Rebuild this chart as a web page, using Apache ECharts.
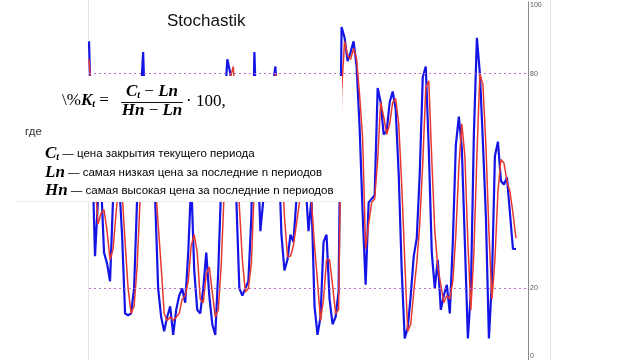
<!DOCTYPE html>
<html><head><meta charset="utf-8">
<script src="https://cdn.jsdelivr.net/npm/echarts@6/dist/echarts.min.js"></script>
<style>html,body{margin:0;padding:0;background:#fff}#c{width:640px;height:360px}</style>
</head><body><div id="c"></div>
<script>
// %K (blue) and %D (red) stochastic oscillator values, one per period
const kValues = [89,60,29,45,50,30,27,22,45,55,
50,35,13,12.5,13,20,45,70,86,60,
55,50,45,20,12,8,12,15,7,14,
18,20,16,30,50,25,14,13,20,30,
18,10,7,25,50,70,84,80,65,45,
20,18,20,22,40,86,60,36,45,60,
70,76,82,60,35,25,28,35,33,45,
55,60,50,36,45,15,7,12,33,35,
17,10,12,19,93,90,83.5,86,89,82,
65,41,21,44,45,46,76,72,63,64,
72,75,70,52,25,6,9,18,29,34,
52,79,82,59,30,20,28,14,18,21,
13,33,60,68,59,33,6,19,63,90,
80,61,40,6,22,57,61,50,49,51,
41,31,31];
const dValues = [84,74,50,38,41,42,36,28,31,41,
50,47,33,20,13,15,26,45,67,72,
67,55,50,38,26,13,11,12,11,12,
13,17,18,22,32,35,30,17,16,24,
26,19,12,14,27,48,67,79,82,65,
43,28,19,20,27,49,62,61,47,47,
58,69,80,72,59,40,29,29,32,38,
44,53,55,49,44,32,22,11,17,28,
28,21,13,14,75,89,85,84,87,84,
74,62,31,38,44,45,56,72,68,63,
66,72,73,66,49,28,8,10,19,27,
38,55,76,78,56,36,26,21,16,18,
17,22,35,54,66,57,33,14,30,57,
80,77,60,36,17,28,47,56,55,50,
47,41,34];
const periodCount = 147;
const periods = Array.from({length: periodCount}, (_, i) => String(i + 1));
const levels = [80, 20];
const yTickLabels = [0, 20, 80, 100];
const titleText = 'Stochastik';

const chart = echarts.init(document.getElementById('c'), null, {renderer: 'canvas'});

const serif = '"Liberation Serif", "DejaVu Serif", serif';
const sans = '"Liberation Sans", Arial, sans-serif';
const mathRich = {
  m: {fontFamily: serif, fontStyle: 'italic', fontWeight: 'bold', fontSize: 17, color: '#111'},
  s: {fontFamily: serif, fontStyle: 'italic', fontWeight: 'bold', fontSize: 10, color: '#111', verticalAlign: 'bottom', padding: [6, 0, 0, 0]},
  u: {fontFamily: serif, fontSize: 17, color: '#111'},
  t: {fontFamily: sans, fontSize: 11.5, color: '#333'}
};

chart.setOption({
  animation: false,
  backgroundColor: '#fff',
  title: {
    text: titleText, left: 162, top: 8,
    textStyle: {fontFamily: sans, fontSize: 17, fontWeight: 'normal', color: '#111'}
  },
  grid: {left: 89, right: 112, top: 2, bottom: 0},
  xAxis: {
    type: 'category', data: periods, boundaryGap: false,
    axisLine: {show: false}, axisTick: {show: false}, axisLabel: {show: false}, splitLine: {show: false}
  },
  yAxis: {
    type: 'value', position: 'right', min: 0, max: 100, interval: 20,
    axisLine: {show: true, lineStyle: {color: '#888', width: 1}},
    axisTick: {show: false},
    splitLine: {show: false},
    axisLabel: {
      margin: 2, fontSize: 7, color: '#555', fontFamily: sans,
      verticalAlignMinLabel: 'bottom', verticalAlignMaxLabel: 'top',
      formatter: v => yTickLabels.indexOf(v) >= 0 ? String(v) : ''
    }
  },
  series: [
    {
      type: 'line', data: kValues, showSymbol: false, z: 2,
      lineStyle: {color: '#1414e6', width: 2.2},
      markLine: {
        silent: true, symbol: 'none', label: {show: false},
        lineStyle: {color: '#b56fcc', type: [2, 3], width: 1},
        data: levels.map(v => ({yAxis: v}))
      }
    },
    {
      type: 'line', data: dValues, showSymbol: false, z: 3,
      lineStyle: {color: '#e8382e', width: 1.5}
    }
  ],
  graphic: [
    {type: 'line', z: 1, shape: {x1: 88.5, y1: 0, x2: 88.5, y2: 360}, style: {stroke: '#e4e4e4', lineWidth: 1}},
    {type: 'line', z: 1, shape: {x1: 550.5, y1: 0, x2: 550.5, y2: 360}, style: {stroke: '#e4e4e4', lineWidth: 1}},
    {type: 'rect', z: 100, shape: {x: 12, y: 76, width: 330, height: 126}, style: {fill: '#fff'}},
    {type: 'line', z: 101, shape: {x1: 14, y1: 201.5, x2: 340, y2: 201.5}, style: {stroke: '#eeeeee', lineWidth: 1}},
    {type: 'text', z: 101, x: 62, y: 101, style: {
      text: '{u|\\%}{m|K}{s|t}{u| = }', rich: mathRich, verticalAlign: 'middle'}},
    {type: 'text', z: 101, x: 152, y: 92, style: {
      text: '{m|C}{s|t}{u| − }{m|Ln}', rich: mathRich, align: 'center', verticalAlign: 'middle'}},
    {type: 'line', z: 101, shape: {x1: 121, y1: 102.5, x2: 183, y2: 102.5}, style: {stroke: '#111', lineWidth: 1}},
    {type: 'text', z: 101, x: 152, y: 111, style: {
      text: '{m|Hn}{u| − }{m|Ln}', rich: mathRich, align: 'center', verticalAlign: 'middle'}},
    {type: 'text', z: 101, x: 186, y: 102, style: {
      text: '{u|· 100,}', rich: mathRich, verticalAlign: 'middle'}},
    {type: 'text', z: 101, x: 25, y: 132, style: {
      text: 'где', fontFamily: sans, fontSize: 11.5, fill: '#333', verticalAlign: 'middle'}},
    {type: 'text', z: 101, x: 45, y: 154, style: {
      text: '{m|C}{s|t}{t| — цена закрытия текущего периода}', rich: mathRich, verticalAlign: 'middle'}},
    {type: 'text', z: 101, x: 45, y: 173, style: {
      text: '{m|Ln}{t| — самая низкая цена за последние n периодов}', rich: mathRich, verticalAlign: 'middle'}},
    {type: 'text', z: 101, x: 45, y: 191, style: {
      text: '{m|Hn}{t| — самая высокая цена за последние n периодов}', rich: mathRich, verticalAlign: 'middle'}}
  ]
});
</script>
</body></html>
